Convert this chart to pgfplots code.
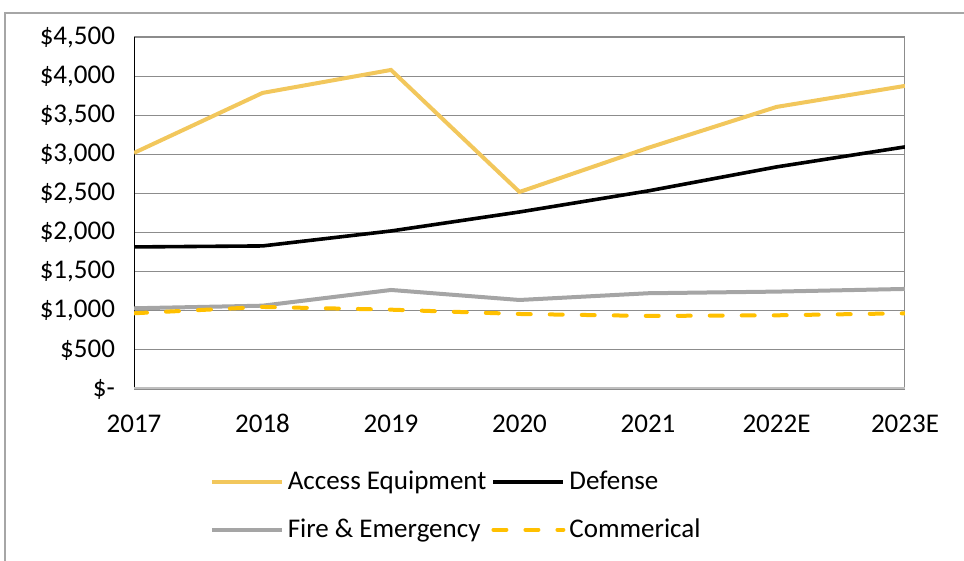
\documentclass[border=0pt]{standalone}
\usepackage{fontspec}
\setmainfont{Carlito}
\usepackage{pgfplots}
\pgfplotsset{compat=1.18}
\definecolor{access}{HTML}{F2C75C}
\definecolor{fire}{HTML}{A5A5A5}
\definecolor{comm}{HTML}{FFC000}
\definecolor{gridc}{HTML}{8C8C8C}
\definecolor{baseax}{HTML}{BFBFBF}
\definecolor{framec}{HTML}{A6A6A6}
\begin{document}
\begin{tikzpicture}
\useasboundingbox (0,0) rectangle (482pt,280.5pt);
\draw[framec, line width=0.6pt] (2.5pt,0) -- (2.5pt,274pt) -- (490pt,274pt);
\begin{axis}[
  at={(67pt,86pt)}, anchor=south west,
  scale only axis, width=385.5pt, height=176pt,
  xmin=0, xmax=6, ymin=0, ymax=4500,
  xtick={0,...,6},
  xticklabels={2017,2018,2019,2020,2021,2022E,2023E},
  ytick={0,500,...,4500},
  yticklabels={{\$-},{\$500},{\$1,000},{\$1,500},{\$2,000},{\$2,500},{\$3,000},{\$3,500},{\$4,000},{\$4,500}},
  major tick length=0pt,
  axis line style={draw=none},
  ymajorgrids, grid style={gridc, line width=0.6pt},
  tick label style={font=\fontsize{13.5}{15}\selectfont},
  yticklabel style={xshift=-6pt},
  xticklabel style={anchor=base, yshift=-22pt},
  legend columns=2,
  legend style={at={(0.09,-0.21)}, anchor=north west, draw=none, fill=none,
    font=\fontsize{13.5}{15}\selectfont, row sep=9pt,
    /tikz/every even column/.append style={column sep=0.5pt}},
  legend cell align=left,
  legend image code/.code={\draw[#1] (0pt,0pt) -- (35pt,0pt);},
]
\draw[gridc, line width=0.8pt] (axis cs:6,0) -- (axis cs:6,4500);
\draw[black, line width=0.8pt] (axis cs:0,0) -- (axis cs:0,4500);
\draw[baseax, line width=1.6pt] (axis cs:0,0) -- (axis cs:6,0);
\addplot[access, line width=2pt] coordinates {(0,3018) (1,3785) (2,4079) (3,2519) (4,3082) (5,3606) (6,3875)};
\addlegendentry{Access Equipment}
\addplot[black, line width=1.8pt] coordinates {(0,1816) (1,1829) (2,2020) (3,2263) (4,2532) (5,2839) (6,3095)};
\addlegendentry{Defense}
\addplot[fire, line width=2pt] coordinates {(0,1032) (1,1065) (2,1266) (3,1138) (4,1224) (5,1245) (6,1279)};
\addlegendentry{Fire \& Emergency}
\addplot[comm, line width=2pt, line cap=round, dash pattern=on 6.5pt off 9.5pt] coordinates {(0,968) (1,1049) (2,1014) (3,959) (4,934) (5,942) (6,968)};
\addlegendentry{Commerical}
\end{axis}
\end{tikzpicture}
\end{document}
